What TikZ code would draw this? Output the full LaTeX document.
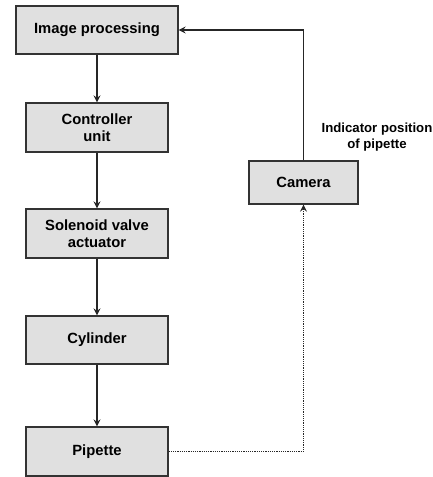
\documentclass[tikz,border=0pt]{standalone}
\usepackage{fontspec}
\setmainfont{Liberation Sans}
\usetikzlibrary{arrows.meta}
\begin{document}
\begin{tikzpicture}[x=1pt,y=1pt,
  box/.style={draw=black!80,line width=1.3pt,fill=black!12,rectangle,align=center,
    font=\bfseries\fontsize{14.8}{17}\selectfont,inner sep=0pt},
  conn/.style={draw=black!85,line width=1.2pt,-{Stealth[length=7pt,width=7pt,inset=2.5pt]}},
  dots/.style={draw=black!85,line width=1.2pt,dash pattern=on 1.1pt off 1.1pt,-{Stealth[length=7pt,width=7pt,inset=2.5pt,open]}}]
\useasboundingbox (0,0) rectangle (432,477);
\node[box,minimum width=162,minimum height=48] (img) at (97,447) {Image processing};
\node[box,minimum width=142,minimum height=49] (ctrl) at (97,349.5) {Controller\\unit};
\node[box,minimum width=142,minimum height=49] (sol) at (97,243.5) {Solenoid valve\\actuator};
\node[box,minimum width=142,minimum height=48] (cyl) at (97,137) {Cylinder};
\node[box,minimum width=142,minimum height=49] (pip) at (97,25.5) {Pipette};
\node[box,minimum width=109,minimum height=43] (cam) at (303.5,294.5) {Camera};
\node[align=center,font=\bfseries\fontsize{13.2}{16}\selectfont] (lab) at (377,340) {Indicator position\\of pipette};
\draw[conn] (img) -- (ctrl);
\draw[conn] (ctrl) -- (sol);
\draw[conn] (sol) -- (cyl);
\draw[conn] (cyl) -- (pip);
\draw[conn] (cam.north) |- (img.east);
\draw[dots] (pip.east) -| (cam.south);
\end{tikzpicture}
\end{document}
